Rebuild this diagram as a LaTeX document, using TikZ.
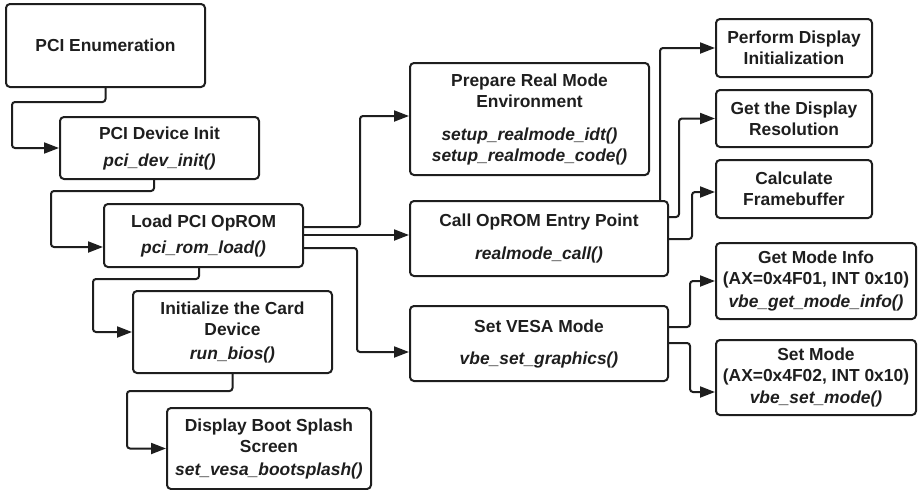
\documentclass[tikz,border=0pt]{standalone}
\usepackage{fontspec}
\setmainfont{Liberation Sans}
\usetikzlibrary{arrows.meta}
\definecolor{ink}{RGB}{30,30,30}
\newcommand\fn[1]{{\itshape #1}}
\begin{document}
\begin{tikzpicture}[x=1pt,y=-1pt,
  box/.style={draw=ink, line width=2pt, rounded corners=4pt, align=center,
    inner sep=0pt, text=ink,
    font=\fontsize{17.4pt}{21pt}\selectfont\bfseries},
  conn/.style={draw=ink, line width=2pt, rounded corners=3pt,
    -{Triangle[length=15pt,width=11pt]}}]
\useasboundingbox (0,0) rectangle (919,490);

% left column: enumeration and card setup
\node[box, minimum width=199pt, minimum height=83pt] (b1) at (105.5,45.5) {PCI Enumeration};
\node[box, minimum width=199pt, minimum height=62pt] (b2) at (159.5,148)
  {PCI Device Init\\[6pt]\fn{pci\_dev\_init()}};
\node[box, minimum width=199pt, minimum height=63pt] (b3) at (203.5,235.5)
  {Load PCI OpROM\\[5pt]\fn{pci\_rom\_load()}};
\node[box, minimum width=199pt, minimum height=82pt] (b4) at (232.5,332)
  {Initialize the Card\\Device\\[3pt]\fn{run\_bios()}};
\node[box, minimum width=204pt, minimum height=81pt] (b5) at (269,448.5)
  {Display Boot Splash\\Screen\\[2pt]\fn{set\_vesa\_bootsplash()}};

% middle column: real mode and VESA
\node[box, minimum width=239pt, minimum height=112pt] (b6) at (529.5,119)
  {Prepare Real Mode\\Environment\\[12pt]\fn{setup\_realmode\_idt()}\\\fn{setup\_realmode\_code()}};
\node[box, minimum width=258pt, minimum height=75pt] (b7) at (539,238.5)
  {Call OpROM Entry Point\\[12pt]\fn{realmode\_call()}};
\node[box, minimum width=258pt, minimum height=75pt] (b8) at (539,343.5)
  {Set VESA Mode\\[11pt]\fn{vbe\_set\_graphics()}};

% right column: display steps and VBE calls
\node[box, minimum width=156pt, minimum height=58pt] (b9) at (794,48)
  {Perform Display\\Initialization};
\node[box, minimum width=156pt, minimum height=57pt] (b10) at (794,118.5)
  {Get the Display\\Resolution};
\node[box, minimum width=156pt, minimum height=58pt] (b11) at (794,189)
  {Calculate\\Framebuffer};
\node[box, minimum width=200pt, minimum height=76pt] (b12) at (816,281)
  {Get Mode Info\\(AX=0x4F01, INT 0x10)\\[2pt]\fn{vbe\_get\_mode\_info()}};
\node[box, minimum width=200pt, minimum height=75pt] (b13) at (816,377.5)
  {Set Mode\\(AX=0x4F02, INT 0x10)\\[1pt]\fn{vbe\_set\_mode()}};

% staircase on the left
\draw[conn] (b1.south) |- (12,102) |- (b2.west);
\draw[conn] ([xshift=-5.5pt]b2.south) |- (51,191) |- ([yshift=-11.5pt]b3.west);
\draw[conn] ([xshift=-4.5pt]b3.south) |- (93,279) |- (b4.west);
\draw[conn] (b4.south) |- (127,391) |- (b5.west);

% fan-out from the OpROM loader
\draw[conn] ([yshift=8.5pt]b3.east) -| (360,116) -- ([yshift=3pt]b6.west);
\draw[conn] ([yshift=0.5pt]b3.east) -- ([yshift=3.5pt]b7.west);
\draw[conn] ([yshift=-12.5pt]b3.east) -| (357,352) -- ([yshift=-8.5pt]b8.west);

% entry point to display steps
\draw[conn] ([xshift=121pt]b7.north) |- (b9.west);
\draw[conn] ([yshift=21.5pt]b7.east) -| (679,118.5) -- (b10.west);
\draw[conn] ([yshift=-0.5pt]b7.east) -| (692,192) -- ([yshift=-3pt]b11.west);

% VESA mode to VBE calls
\draw[conn] ([yshift=16.5pt]b8.east) -| (690,281) -- (b12.west);
\draw[conn] ([yshift=0.5pt]b8.east) -| (690,392) -- ([yshift=-14.5pt]b13.west);
\end{tikzpicture}
\end{document}
